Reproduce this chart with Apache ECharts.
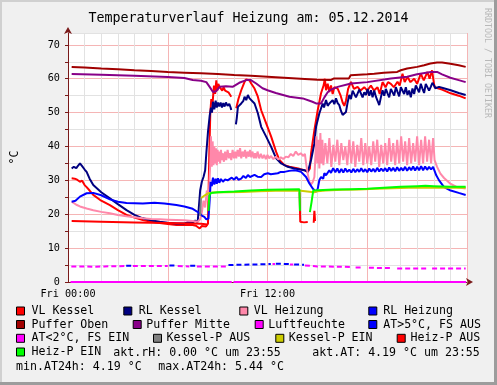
<!DOCTYPE html>
<html><head><meta charset="utf-8">
<script src="https://cdn.jsdelivr.net/npm/echarts@6/dist/echarts.min.js"></script>
<style>html,body{margin:0;padding:0;background:#f0f0f0;}#c{width:497px;height:385px;}</style>
</head><body><div id="c"></div>
<script>
// ---------- DATA (x = hours since Fri 00:00, y = °C) ----------
const titleText = 'Temperaturverlauf Heizung am: 05.12.2014';
const yUnit = '°C';
const xLabelHours = [0, 12];
const xLabelTexts = ['Fri 00:00', 'Fri 12:00'];
const yLabelValues = [0, 10, 20, 30, 40, 50, 60, 70];
const sideText = 'RRDTOOL / TOBI OETIKER';

const seriesNames = ['VL Kessel','RL Kessel','VL Heizung','RL Heizung','Puffer Oben','Puffer Mitte','Luftfeuchte','AT>5°C, FS AUS','AT<2°C, FS EIN','Kessel-P AUS','Kessel-P EIN','Heiz-P AUS','Heiz-P EIN'];
const seriesColors = ['#ff0000','#000080','#ff88aa','#0000ff','#a00000','#880088','#ff00ff','#0000ff','#ff00ff','#808080','#cccc00','#ff0000','#00ff00'];

const vlKessel = [[0.22,30.6],[0.4,30.5],[0.55,30.2],[0.72,29.6],[0.85,29.9],[1.0,28.6],[1.12,28.0],[1.3,27],[1.52,25.7],[2.0,24.0],[2.52,22.7],[3.0,21.2],[3.52,19.8],[4.0,19.0],[4.5,18.3],[5.0,17.8],[5.52,17.4],[6.0,17.1],[6.52,16.8],[7.0,16.8],[7.5,16.8],[7.7,16.6],[7.8,16.1],[7.92,15.8],[8.04,16.5],[8.15,16.1],[8.3,16.4],[8.42,17.2],[8.5,38],[8.56,50],[8.62,54],[8.7,53],[8.78,58],[8.85,55.5],[8.92,59.5],[8.98,56.5],[9.04,58.5],[9.12,57.5],[9.2,58],[9.28,56.5],[9.36,57.5],[9.45,56.5],[9.55,57],[9.65,56],[9.75,56.5],[9.82,54.7],[9.97,null],[10.12,51.3],[10.25,54],[10.42,56.6],[10.62,59.1],[10.72,59.8],[10.82,60],[10.92,59.5],[11.02,58.6],[11.22,57.1],[11.42,54.7],[11.62,50.7],[11.92,46.8],[12.22,42.9],[12.52,38.4],[12.72,36],[13.02,34.5],[13.32,34],[13.62,33.7],[13.92,33.4],[14.22,33],[14.42,32.5],[14.55,33.5],[14.62,38],[14.82,44.8],[15.02,50.7],[15.22,55.7],[15.38,58.1],[15.45,60],[15.52,56.6],[15.62,58.5],[15.72,56.1],[15.82,58],[15.92,55.5],[16.02,57.5],[16.22,57.1],[16.4,55],[16.52,53],[16.62,52],[16.72,53.5],[16.85,57],[17.02,59.1],[17.2,57],[17.42,57.6],[17.6,56.5],[17.82,57.5],[18.0,56.5],[18.22,58],[18.4,56.5],[18.62,57.5],[18.75,55.5],[18.92,59],[19.1,57.5],[19.25,59],[19.42,58.5],[19.6,57.5],[19.82,59.1],[19.95,58],[20.12,61.5],[20.25,59],[20.42,60.5],[20.6,59],[20.82,60],[21.0,58.5],[21.22,61.5],[21.4,59.5],[21.62,62],[21.75,60],[21.9,62.5],[22.0,59],[22.05,57.5],[22.5,56.8],[23.02,55.7],[23.5,55],[23.92,54.2]];

const rlKessel = [[0.22,33.5],[0.35,34],[0.5,33.6],[0.6,34.3],[0.72,35],[0.85,34.2],[1.0,33.2],[1.12,32.5],[1.3,30.5],[1.52,28.6],[2.0,26.5],[2.52,24.7],[3.0,23.0],[3.52,21.2],[4.0,19.8],[4.5,18.8],[5.0,18.2],[5.52,17.8],[6.0,17.5],[6.52,17.3],[7.0,17.3],[7.2,17.6],[7.32,18.1],[7.5,17.6],[7.65,18.1],[7.8,17.7],[7.88,18],[7.95,27],[8.05,29.6],[8.15,31],[8.25,33],[8.32,38],[8.42,44.3],[8.52,49],[8.6,51.5],[8.66,50],[8.72,53.2],[8.8,51],[8.88,53.5],[8.95,51.5],[9.02,53],[9.1,51.8],[9.18,53],[9.26,51.5],[9.34,52.8],[9.42,51.8],[9.5,53],[9.6,52],[9.7,52.6],[9.78,51.5],[9.82,50.8],[9.97,null],[10.1,46.5],[10.15,48.3],[10.22,51.7],[10.42,52.7],[10.55,53.5],[10.62,54.7],[10.72,53.7],[10.82,55.2],[10.92,54.2],[11.02,54.7],[11.22,52.7],[11.42,49.8],[11.62,45.8],[11.92,42.9],[12.22,39.9],[12.52,36.5],[12.82,35],[13.22,34],[13.62,33.5],[14.22,33],[14.42,32.5],[14.52,32.1],[14.62,36],[14.82,40.9],[14.92,45.8],[15.12,49.8],[15.32,52.7],[15.4,51.5],[15.52,53.7],[15.62,52],[15.72,52.7],[15.82,53.2],[15.92,53.7],[16.02,52.5],[16.12,54.2],[16.22,52.8],[16.32,52.2],[16.42,50.5],[16.52,49.3],[16.62,48.8],[16.72,50.2],[16.82,53],[16.92,55.2],[17.02,54],[17.12,56.5],[17.22,56.1],[17.32,54.5],[17.42,54.7],[17.52,56.8],[17.62,56.6],[17.72,54.5],[17.82,56],[17.92,55.2],[18.02,57],[18.12,55],[18.22,56.6],[18.32,54.5],[18.42,56.5],[18.52,54.7],[18.62,53.5],[18.72,52.2],[18.82,54.5],[18.92,56.6],[19.02,55],[19.12,57],[19.22,55.7],[19.32,54.5],[19.42,57],[19.52,57.1],[19.62,55],[19.72,57.5],[19.82,56.1],[19.92,54.8],[20.02,57.5],[20.12,57.6],[20.22,55.5],[20.32,57.5],[20.42,55.2],[20.52,56.5],[20.62,54.5],[20.72,57.1],[20.82,55.5],[20.92,58],[21.02,58.1],[21.12,56],[21.22,58.5],[21.32,57.1],[21.42,55.8],[21.52,58.5],[21.62,58.6],[21.72,56.5],[21.82,57.6],[21.92,58.8],[22.02,58],[22.1,57.2],[22.32,57.6],[22.6,57.2],[23.02,56.6],[23.5,55.8],[23.92,55.2]];

const vlHeizung = [[0.22,23.7],[0.5,22.8],[0.72,22.3],[1.12,21.7],[1.52,21.2],[2.0,20.7],[2.52,20.3],[3.0,19.8],[3.52,19.4],[4.0,19.1],[4.5,18.8],[5.0,18.6],[5.52,18.5],[6.0,18.4],[6.52,18.3],[7.0,18.2],[7.5,18.0],[7.8,17.8],[7.95,18.5],[8.05,20.5],[8.15,24],[8.25,22],[8.35,27],[8.45,24],[8.55,34],[8.6,43],[8.65,34],[8.7,41.5],[8.75,34.5],[8.8,40],[8.85,35],[8.9,39.5],[8.95,34.5],[9.0,39],[9.05,35.5],[9.1,38.5],[9.15,35],[9.2,39],[9.25,36],[9.3,38],[9.38,35.5],[9.45,38.5],[9.52,36],[9.6,39],[9.68,36.5],[9.75,38],[9.82,36],[9.9,39],[9.98,36.5],[10.05,38.5],[10.12,36.5],[10.2,39],[10.28,37],[10.35,39.5],[10.42,36.5],[10.5,38.5],[10.58,37],[10.65,39],[10.72,36.5],[10.8,38.5],[10.88,37],[10.95,39],[11.02,36.8],[11.1,38.5],[11.18,36.5],[11.25,38],[11.32,36.5],[11.4,38.5],[11.5,36.5],[11.6,37.8],[11.7,36.5],[11.8,37.5],[11.9,36.3],[12.0,37.5],[12.1,36.5],[12.2,37.2],[12.35,36.3],[12.5,37],[12.65,36.2],[12.8,36.8],[12.95,36.3],[13.1,37],[13.25,36.8],[13.4,37.8],[13.55,37.2],[13.7,38.5],[13.85,37.5],[14.0,38],[14.15,37.2],[14.25,37.8],[14.32,35],[14.42,32],[14.52,29.5],[14.62,28.8],[14.72,29.5],[14.82,31],[14.88,37],[14.94,43],[15.0,35],[15.06,42],[15.12,33.5],[15.18,44],[15.24,35],[15.3,42],[15.36,34.5],[15.48,41],[15.6,35],[15.72,42.5],[15.84,34],[15.96,40.5],[16.08,35.5],[16.2,42],[16.32,34.5],[16.44,41],[16.56,36],[16.68,40],[16.8,34.5],[16.92,42],[17.04,35],[17.16,41.5],[17.28,34],[17.4,40.5],[17.52,35.5],[17.64,42.5],[17.76,34.5],[17.88,41],[18.0,35],[18.12,40],[18.24,34.5],[18.36,41.5],[18.48,35.5],[18.6,42],[18.72,34],[18.84,40.5],[18.96,35],[19.08,41],[19.2,34.5],[19.32,42.5],[19.44,35.5],[19.56,41],[19.68,34.5],[19.8,42],[19.92,35],[20.04,43],[20.16,35.5],[20.28,41.5],[20.4,34.5],[20.52,42.5],[20.64,35],[20.76,41],[20.88,35.5],[21.0,43],[21.12,34.5],[21.24,42],[21.36,35],[21.48,43],[21.6,35.5],[21.72,42],[21.84,35],[21.96,42.5],[22.05,36],[22.2,34],[22.4,32],[22.62,30.7],[23.0,29],[23.4,28],[23.92,27.6]];

const rlHeizung = [[0.22,23.7],[0.45,24],[0.72,25.2],[1.12,26.2],[1.52,26.3],[2.0,25.6],[2.52,24.4],[3.0,23.7],[3.52,23.3],[4.5,23.2],[5.2,23.4],[5.8,23.2],[6.52,22.7],[7.0,22.3],[7.5,21.6],[7.92,20.3],[8.05,19.6],[8.2,19.2],[8.32,18.5],[8.45,18.7],[8.52,24],[8.58,29.6],[8.65,28.3],[8.72,30.8],[8.8,28.8],[8.88,30.5],[8.95,29],[9.02,30.6],[9.1,29.3],[9.2,30.4],[9.32,29.6],[9.45,30.3],[9.6,30],[9.72,30.1],[9.85,30.8],[10.0,30.2],[10.12,31],[10.25,30.2],[10.42,30.5],[10.55,31.3],[10.7,30.7],[10.82,31.6],[10.95,31],[11.22,31.6],[11.4,31.1],[11.62,31],[11.8,31.8],[12.02,32.1],[12.2,31.8],[12.62,32.1],[12.8,32.5],[13.02,32.5],[13.3,32.8],[13.62,33],[13.8,32.8],[14.02,32.5],[14.32,31],[14.52,29.1],[14.72,27.6],[14.92,26.6],[15.02,27.5],[15.12,30.1],[15.22,31],[15.35,30.5],[15.42,32.1],[15.52,31.5],[15.72,33],[15.82,32.2],[15.95,33.6],[16.08,32.4],[16.2,33.5],[16.32,32.2],[16.44,33.4],[16.56,32.3],[16.68,33.5],[16.8,32.5],[16.92,33.2],[17.04,32.3],[17.16,33.4],[17.28,32.4],[17.4,33.3],[17.52,32.5],[17.64,33.6],[17.76,32.5],[17.88,33.3],[18.0,32.4],[18.12,33.5],[18.24,32.6],[18.36,33.4],[18.48,32.5],[18.6,33.7],[18.72,32.6],[18.84,33.5],[18.96,32.7],[19.08,33.6],[19.2,32.6],[19.32,33.8],[19.44,32.8],[19.56,33.7],[19.68,32.7],[19.8,33.9],[19.92,32.8],[20.04,33.7],[20.16,32.9],[20.28,34],[20.4,32.8],[20.52,33.9],[20.64,33],[20.76,34.1],[20.88,32.9],[21.0,34],[21.12,33],[21.24,34.2],[21.36,33],[21.48,34.1],[21.6,33.1],[21.72,34],[21.84,33.2],[21.96,34],[22.02,33.5],[22.15,31.5],[22.32,30],[22.62,28],[23.02,27],[23.5,26.3],[23.92,25.7]];

const pufferOben = [[0.22,63.5],[1.0,63.3],[2.0,63.0],[3.0,62.8],[4.0,62.5],[5.0,62.3],[6.0,62.0],[7.0,61.8],[8.0,61.6],[9.0,61.4],[10.0,61.1],[11.0,60.9],[12.0,60.6],[13.0,60.3],[14.0,60.0],[15.0,59.7],[15.8,59.6],[16.0,60.1],[16.9,60.1],[17.0,61.0],[18.0,61.3],[18.42,61.5],[19.0,61.8],[19.8,62.0],[20.02,62.5],[20.4,63.0],[21.0,63.5],[21.42,64.0],[21.8,64.5],[22.2,64.8],[22.5,64.8],[23.0,64.4],[23.5,64.0],[23.92,63.5]];

const pufferMitte = [[0.22,61.4],[2.0,61.2],[4.0,60.9],[6.0,60.5],[7.0,60.2],[7.1,59.7],[7.5,59.6],[8.0,59.4],[8.32,59.0],[8.52,57.6],[8.72,56.1],[8.9,56.3],[9.12,57.6],[9.5,57.8],[9.9,57.6],[10.3,58.8],[10.72,59.6],[11.0,59.6],[11.32,58.6],[11.7,57.2],[12.0,56.6],[12.5,55.8],[13.32,54.7],[14.12,54.2],[14.7,53.2],[14.92,52.7],[15.22,52.7],[15.42,54.5],[15.62,56.0],[15.82,56.8],[16.22,57.6],[17.02,58.6],[18.0,59.0],[19.42,60.1],[20.4,60.6],[21.0,61.3],[21.82,62.0],[22.2,62.0],[22.5,61.3],[23.0,60.3],[23.5,59.6],[23.92,59.0]];

const luftfeuchte = [[0.15,0],[9.85,0],[9.9,null],[9.95,0],[23.95,0]];

const atFrostAus = [[3.5,4.8],[3.85,4.8],[3.9,null],[6.1,4.9],[6.5,4.9],[6.55,null],[7.35,4.8],[7.7,4.8],[7.75,null],[9.65,5.0],[10.5,5.1],[11.5,5.2],[12.2,5.3],[12.3,null],[12.5,5.4],[13.3,5.3],[13.35,null],[13.6,5.2],[14.2,5.1]];
const atFrostEin = [[0.2,4.6],[1.0,4.6],[1.6,4.5],[2.2,4.6],[3.4,4.7],[3.45,null],[3.9,4.7],[6.0,4.7],[6.05,null],[6.6,4.7],[7.3,4.6],[7.32,null],[7.75,4.6],[9.6,4.6],[9.62,null],[12.3,5.3],[12.45,5.3],[12.48,null],[13.35,5.2],[13.55,5.2],[13.58,null],[14.25,4.9],[15.0,4.6],[16.6,4.5],[17.0,4.4],[17.05,null],[17.3,4.3],[17.7,4.3],[17.75,null],[18.1,4.2],[19.4,4.1],[19.5,null],[19.8,4.0],[21.6,4.0],[21.65,null],[21.9,4.0],[23.92,4.0]];

const kesselPAus = [[7.95,19.5],[8.0,25.0]];
const kesselPEin = [[8.02,24.8],[8.15,25.3],[8.3,25.8],[8.45,26.2],[8.7,26.4],[9.5,26.5],[10.5,26.6],[11.5,26.8],[12.5,26.9],[13.5,27.0],[14.0,26.9],[14.4,26.7],[14.8,26.5],[15.0,26.8],[15.5,27.0],[16.5,27.2],[17.5,27.3],[18.5,27.5],[19.5,27.7],[20.5,27.8],[21.5,27.9],[22.5,27.8],[23.92,27.8]];
const heizPAus = [[0.22,18.0],[2.0,17.8],[4.0,17.6],[6.0,17.4],[8.0,17.2],[8.4,17.0],[8.45,null],[13.93,26.5],[13.97,17.8],[14.2,17.6],[14.42,17.7],[14.45,null],[14.78,17.5],[14.82,21],[14.86,18]];
const heizPEin = [[8.45,21],[8.5,25.5],[8.6,26.3],[9.0,26.5],[10.0,26.7],[11.0,27.0],[12.0,27.2],[13.0,27.3],[13.92,27.4],[13.95,21],[13.96,null],[14.55,20.6],[14.65,23.6],[14.7,24],[14.75,27],[15.0,27.1],[16.0,27.3],[17.0,27.4],[18.0,27.5],[19.0,27.8],[20.0,28.1],[21.0,28.3],[21.5,28.4],[22.0,28.3],[23.0,28.1],[23.92,28.1]];

const seriesData = [vlKessel, rlKessel, vlHeizung, rlHeizung, pufferOben, pufferMitte, luftfeuchte, atFrostAus, atFrostEin, kesselPAus, kesselPEin, heizPAus, heizPEin];

const statTexts = ['akt.rH: 0.00 °C um 23:55', 'akt.AT: 4.19 °C um 23:55', 'min.AT24h: 4.19 °C', 'max.AT24h: 5.44 °C'];

// ---------- LAYOUT ----------
const FONT = 'DejaVu Sans Mono';
const LEG_FS = 11.6;
// [squareX, textX, rowCenterY] per series
const legendPos = [
  [16,31,312],[123.3,138.3,312],[239.3,253.3,312],[368.3,382.7,312],
  [16,31,325.5],[136.7,145.7,325.5],[257.7,267.7,325.5],[368.3,382.7,325.5],
  [16,31,339.3],[156,166,339.3],[277.7,288.3,339.3],[396.7,410,339.3],
  [16,31,353]
];
const statPos = [[113.3,353],[312.3,353],[16,366.8],[158.3,366.8]];

const chart = echarts.init(document.getElementById('c'), null, {renderer:'canvas'});

const dashed = [false,false,false,false,false,false,false,true,true,false,false,false,false];
const series = seriesNames.map((n,i)=>({
  name:n, type:'line', data:seriesData[i], showSymbol:false, symbol:'none',
  connectNulls:false, silent:true, animation:false, z: 2+i,
  itemStyle:{color:seriesColors[i]},
  lineStyle:{color:seriesColors[i], width:2, type: dashed[i] ? [5,3] : 'solid'},
  emphasis:{disabled:true}
}));

const legends = seriesNames.map((n,i)=>{
  const [sx,tx,cy] = legendPos[i];
  let left = sx, pad = tx - sx - 13;
  if (pad < 0) { left = tx - 13; pad = 0; }
  return {
    data:[n], left:left, top:cy-7, padding:0, icon:'rect', itemWidth:8, itemHeight:8,
    selectedMode:false,
    itemStyle:{borderColor:'#000', borderWidth:1, borderType:'solid'},
    textStyle:{fontFamily:FONT, fontSize:LEG_FS, color:'#000', padding:[0,0,0,pad]}
  };
});

const graphics = [
  {type:'polyline', shape:{points:[[1,384],[1,1],[496,1]]}, style:{stroke:'#d0d0d0', lineWidth:2, fill:null}, silent:true},
  {type:'polyline', shape:{points:[[495.5,0],[495.5,383.5],[0,383.5]]}, style:{stroke:'#9c9c9c', lineWidth:3, fill:null}, silent:true},
  {type:'text', x:487, y:63, rotation:-Math.PI/2, silent:true,
    style:{text:sideText, fill:'#b8b8b8', font:'8.3px "DejaVu Sans Mono"', align:'center', verticalAlign:'middle'}}
];
statTexts.forEach((t,i)=>{
  graphics.push({type:'text', x:statPos[i][0], y:statPos[i][1], silent:true,
    style:{text:t, fill:'#000', font:LEG_FS+'px "DejaVu Sans Mono"', align:'left', verticalAlign:'middle'}});
});

const xSplitColors = [];
for (let h=0; h<6; h++) xSplitColors.push(h===0 ? '#f5b5b5' : '#e2e2e2');

const option = {
  backgroundColor:'#f0f0f0',
  animation:false,
  title:{text:titleText, left:'center', top:7, textStyle:{fontFamily:FONT, fontSize:13.3, fontWeight:'normal', color:'#000'}},
  grid:{left:68, right:30, top:33, bottom:103, show:true, backgroundColor:'#ffffff', borderWidth:0, containLabel:false},
  xAxis:{type:'value', min:0, max:24, interval:1,
    axisLine:{show:true, onZero:false, lineStyle:{color:'#7a1a1a', width:1}, symbol:['none','arrow'], symbolSize:[6,7], symbolOffset:[0,6]},
    axisTick:{show:false},
    splitLine:{show:true, lineStyle:{color:xSplitColors, width:1}},
    axisLabel:{margin:7, fontFamily:FONT, fontSize:10.2, color:'#000', showMaxLabel:false, showMinLabel:true,
      formatter:(v)=>{ const k = xLabelHours.indexOf(v); return k>=0 ? xLabelTexts[k] : ''; }}
  },
  yAxis:{type:'value', min:0, max:73.5, interval:5,
    name:yUnit, nameLocation:'middle', nameRotate:90, nameGap:47,
    nameTextStyle:{fontFamily:FONT, fontSize:11.6, color:'#000'},
    axisLine:{show:true, lineStyle:{color:'#7a1a1a', width:1}, symbol:['none','arrow'], symbolSize:[6,7], symbolOffset:[0,6]},
    axisTick:{show:true, length:3, lineStyle:{color:'#7a1a1a'}},
    splitLine:{show:true, lineStyle:{color:['#f5b5b5','#e2e2e2'], width:1}},
    axisLabel:{margin:8, fontFamily:FONT, fontSize:10.2, color:'#000', showMaxLabel:false,
      formatter:(v)=> yLabelValues.indexOf(v)>=0 ? String(v) : ''}
  },
  legend:legends,
  graphic:graphics,
  series:series
};
chart.setOption(option);
</script></body></html>
